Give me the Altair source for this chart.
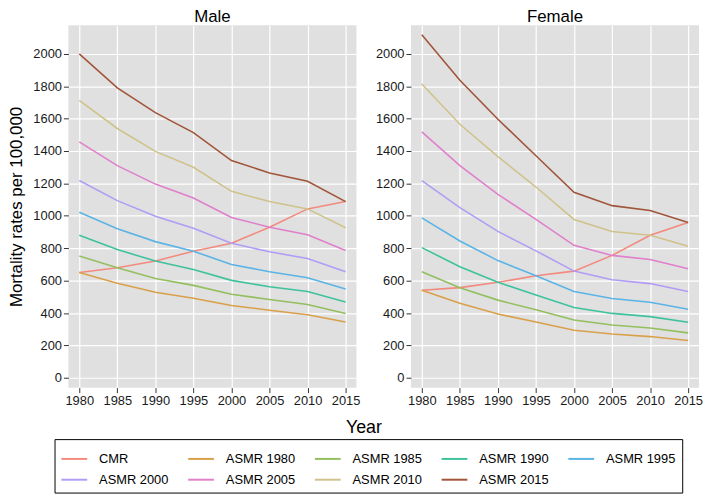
import altair as alt
import pandas as pd

years = [1980, 1985, 1990, 1995, 2000, 2005, 2010, 2015]
series_names = ["CMR", "ASMR 1980", "ASMR 1985", "ASMR 1990", "ASMR 1995",
                "ASMR 2000", "ASMR 2005", "ASMR 2010", "ASMR 2015"]
series_colors = ["#F28A7E", "#D9A04A", "#93BF5F", "#3DC29C", "#5AB4E5",
                 "#B09CF5", "#E07FCB", "#CFC28A", "#A0553A"]

male_cmr = [651, 680, 721, 782, 831, 930, 1043, 1088]
male_asmr1980 = [651, 584, 529, 492, 447, 418, 390, 345]
male_asmr1985 = [753, 680, 614, 571, 516, 484, 453, 398]
male_asmr1990 = [880, 792, 721, 669, 602, 563, 533, 469]
male_asmr1995 = [1022, 920, 841, 782, 700, 655, 618, 549]
male_asmr2000 = [1218, 1094, 998, 924, 831, 778, 737, 655]
male_asmr2005 = [1457, 1310, 1196, 1110, 990, 930, 884, 786]
male_asmr2010 = [1712, 1539, 1398, 1300, 1151, 1088, 1043, 927]
male_asmr2015 = [2000, 1790, 1637, 1514, 1341, 1265, 1214, 1088]

female_cmr = [541, 557, 590, 630, 659, 756, 880, 959]
female_asmr1980 = [541, 461, 394, 345, 294, 271, 255, 231]
female_asmr1985 = [655, 557, 480, 420, 357, 327, 308, 278]
female_asmr1990 = [804, 686, 590, 512, 435, 398, 378, 343]
female_asmr1995 = [988, 845, 724, 630, 533, 490, 467, 424]
female_asmr2000 = [1218, 1051, 904, 784, 659, 606, 582, 533]
female_asmr2005 = [1518, 1310, 1133, 978, 818, 756, 731, 673]
female_asmr2010 = [1814, 1565, 1365, 1178, 978, 904, 880, 812]
female_asmr2015 = [2118, 1837, 1596, 1371, 1145, 1063, 1033, 959]

male_series = [male_cmr, male_asmr1980, male_asmr1985, male_asmr1990, male_asmr1995,
               male_asmr2000, male_asmr2005, male_asmr2010, male_asmr2015]
female_series = [female_cmr, female_asmr1980, female_asmr1985, female_asmr1990, female_asmr1995,
                 female_asmr2000, female_asmr2005, female_asmr2010, female_asmr2015]


def to_frame(series_list):
    rows = []
    for name, vals in zip(series_names, series_list):
        for yr, v in zip(years, vals):
            rows.append({"Year": yr, "Rate": v, "Series": name})
    return pd.DataFrame(rows)


FONT = "Liberation Sans"


def panel(df, title, left):
    x_axis = alt.Axis(
        values=years, format="d", grid=True,
        title="Year" if left else "",
        titleFontSize=18, titleFontWeight="normal", titleColor="black",
        titleX=298, titleY=45, titleBaseline="alphabetic", titleAlign="center",
    )
    y_axis = alt.Axis(
        values=list(range(0, 2001, 200)), format="d", grid=True,
        title="Mortality rates per 100,000" if left else "",
        titleFontSize=17, titleFontWeight="normal", titleColor="black",
        titlePadding=7,
    )
    return alt.Chart(df).mark_line(strokeWidth=1.6).encode(
        x=alt.X("Year:Q", scale=alt.Scale(domain=[1978.57, 2016.43], nice=False, zero=False),
                axis=x_axis),
        y=alt.Y("Rate:Q", scale=alt.Scale(domain=[-60, 2176], nice=False, zero=False),
                axis=y_axis),
        color=alt.Color(
            "Series:N",
            scale=alt.Scale(domain=series_names, range=series_colors),
            sort=series_names,
            legend=alt.Legend(
                title=None, orient="none", legendX=-14, legendY=418,
                direction="horizontal", columns=5, symbolType="stroke",
                symbolSize=676, symbolStrokeWidth=2, labelFontSize=13,
                labelFont=FONT, labelColor="black", labelOffset=11,
                columnPadding=15, rowPadding=-3, padding=6,
                strokeColor="black", fillColor="white", labelLimit=200,
            ),
        ),
        detail="Series:N",
    ).properties(
        width=291, height=366,
        title=alt.TitleParams(title, fontSize=17, fontWeight="normal", font=FONT,
                              color="black", anchor="middle", offset=-1),
    )


left = panel(to_frame(male_series), "Male", True)
right = panel(to_frame(female_series), "Female", False)

chart = alt.hconcat(left, right, spacing=55, bounds="flush").properties(
    padding={"left": 0, "top": -2, "right": 0, "bottom": 0}
).configure_view(
    fill="#E0E0E0", strokeWidth=0
).configure_axis(
    domain=False, tickColor="#333333", tickSize=5, tickWidth=1,
    labelFontSize=13, labelFont=FONT, labelColor="#1a1a1a", labelPadding=2,
    titleFont=FONT, gridColor="white", gridWidth=1.2,
).configure_concat(spacing=55)

chart.save("out.html", embed_options={"renderer": "svg", "actions": False})
